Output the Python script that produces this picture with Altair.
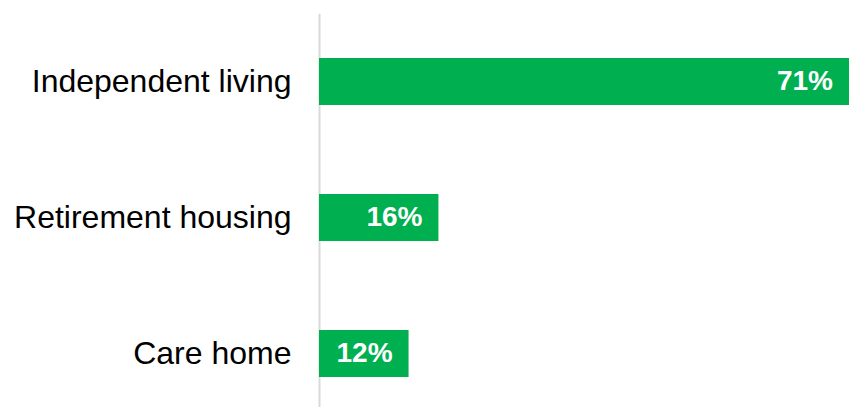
import altair as alt
import pandas as pd

categories = ["Independent living", "Retirement housing", "Care home"]
values = [71, 16, 12]
labels = ["71%", "16%", "12%"]

df = pd.DataFrame({"category": categories, "value": values, "label": labels})

y_enc = alt.Y(
    "category:N",
    sort=categories,
    title=None,
    scale=alt.Scale(range=[0, 408], paddingInner=0.654, paddingOuter=0.327),
    axis=alt.Axis(
        domain=True,
        domainColor="#d9d9d9",
        domainWidth=2,
        ticks=False,
        grid=False,
        labelFont="Liberation Sans",
        labelFontSize=32,
        labelColor="#000000",
        labelPadding=28,
        labelLimit=400,
    ),
)

x_enc = alt.X(
    "value:Q",
    scale=alt.Scale(domain=[0, 71], nice=False, zero=True),
    axis=None,
)

bars = alt.Chart(df).mark_bar(color="#00B050").encode(x=x_enc, y=y_enc)

text = alt.Chart(df).mark_text(
    align="right",
    baseline="middle",
    dx=-16,
    font="Liberation Sans",
    fontSize=28,
    fontWeight="bold",
    color="white",
).encode(x=x_enc, y=y_enc, text="label:N")

chart = (
    alt.layer(bars, text)
    .properties(
        width=530,
        height=393,
        background="white",
        autosize=alt.AutoSizeParams(type="none"),
        padding={"left": 311, "top": 5.5, "right": 0, "bottom": 0},
    )
    .configure_view(strokeWidth=0, stroke="transparent")
)

chart.save("out.html", embed_options={"renderer": "svg", "actions": False})
